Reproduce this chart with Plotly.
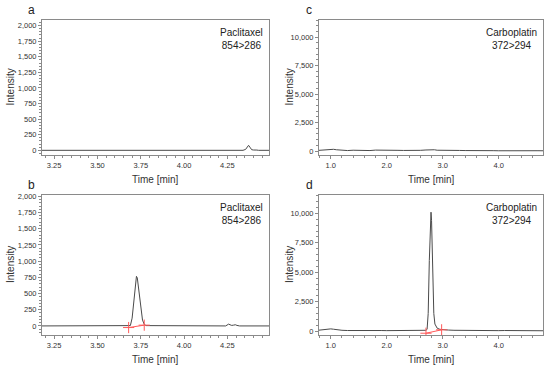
import plotly.graph_objects as go

# ---------------- data ----------------
# Panel a: Paclitaxel 854>286 (blank)
a_time = [3.18, 4.34, 4.355, 4.365, 4.372, 4.38, 4.39, 4.40, 4.41, 4.42, 4.43, 4.49]
a_int = [0, 0, 15, 60, 80, 50, 10, 5, 10, 4, 0, 0]

# Panel b: Paclitaxel 854>286 (sample)
b_time = [3.18, 3.68, 3.69, 3.70, 3.71, 3.715, 3.72, 3.725, 3.73, 3.74, 3.75, 3.76, 3.77, 3.78,
          4.24, 4.25, 4.257, 4.265, 4.275, 4.285, 4.296, 4.305, 4.32, 4.49]
b_int = [0, 0, 5, 120, 430, 560, 690, 765, 740, 520, 260, 90, 25, 5,
         0, 15, 28, 18, 8, 12, 18, 8, 0, 0]
b_base_t = [3.68, 3.77]
b_base_i = [-25, 12]

# Panel c: Carboplatin 372>294 (blank)
c_time = [0.79, 0.85, 0.9, 0.95, 1.0, 1.05, 1.1, 1.2, 1.3, 1.4, 1.5, 1.6, 1.7, 1.8, 1.9, 2.0,
          2.1, 2.2, 2.3, 2.4, 2.5, 2.6, 2.7, 2.8, 2.85, 2.9, 3.0, 3.1, 3.2, 3.3, 3.4, 3.5,
          3.6, 3.7, 3.8, 3.9, 4.0, 4.1, 4.2, 4.3, 4.4, 4.5, 4.6, 4.7, 4.79]
c_int = [60, 80, 110, 170, 180, 150, 110, 60, 40, 70, 50, 60, 40, 80, 60, 50,
         40, 60, 50, 40, 70, 60, 90, 140, 110, 70, 50, 40, 60, 50, 40, 50,
         30, 40, 50, 30, 20, 30, 20, 30, 20, 30, 20, 25, 20]

# Panel d: Carboplatin 372>294 (sample)
d_time = [0.79, 0.85, 0.9, 0.95, 1.0, 1.05, 1.1, 1.2, 1.3, 1.4, 1.5, 1.6, 1.7, 1.8, 1.9, 2.0,
          2.1, 2.2, 2.3, 2.4, 2.5, 2.6, 2.7, 2.72, 2.74, 2.76, 2.78, 2.79, 2.80, 2.82, 2.84,
          2.86, 2.88, 2.9, 2.95, 3.0, 3.1, 3.2, 3.3, 3.4, 3.5, 3.6, 3.7, 3.8, 3.9, 4.0,
          4.1, 4.2, 4.3, 4.4, 4.5, 4.6, 4.7, 4.79]
d_int = [80, 120, 150, 200, 190, 160, 110, 70, 50, 60, 40, 50, 40, 60, 50, 40,
         50, 40, 30, 40, 50, 40, 70, 150, 1500, 6000, 9800, 10100, 9400, 5000, 1500,
         600, 350, 250, 150, 120, 90, 70, 60, 80, 60, 50, 40, 60, 50, 40,
         50, 40, 30, 40, 30, 40, 30, 30]
d_base_t = [2.70, 2.98]
d_base_i = [-180, 110]

panel_labels = ["a", "b", "c", "d"]
compound_labels = ["Paclitaxel<br>854>286", "Paclitaxel<br>854>286",
                   "Carboplatin<br>372>294", "Carboplatin<br>372>294"]
x_title = "Time [min]"
y_title = "Intensity"

# ---------------- figure ----------------
FONT = "Liberation Sans, Arial, sans-serif"
LINE = "#4a4a4a"
AXC = "#8a8a8a"

fig = go.Figure()

def trace(x, y, xa, ya):
    fig.add_trace(go.Scatter(x=x, y=y, mode="lines", xaxis=xa, yaxis=ya,
                             line=dict(color=LINE, width=1), showlegend=False,
                             hoverinfo="skip"))

def base(x, y, xa, ya):
    fig.add_trace(go.Scatter(x=x, y=y, mode="lines+markers", xaxis=xa, yaxis=ya,
                             line=dict(color="#ff5a5a", width=1),
                             marker=dict(symbol="cross-thin-open", size=8,
                                         line=dict(color="#ff5a5a", width=1)),
                             showlegend=False, hoverinfo="skip"))

trace(a_time, a_int, "x", "y")
trace(b_time, b_int, "x2", "y2")
base(b_base_t, b_base_i, "x2", "y2")
trace(c_time, c_int, "x3", "y3")
trace(d_time, d_int, "x4", "y4")
base(d_base_t, d_base_i, "x4", "y4")

W, H = 550, 367
ML, MR, MT, MB = 42, 7, 20, 32
pw, ph = W - ML - MR, H - MT - MB
colL = [0, (269 - ML) / pw]
colR = [(319 - ML) / pw, 1]
rowT = [(H - MB - 155) / ph, 1]
rowB = [0, (H - MB - 195) / ph]

tickfont = dict(family=FONT, size=7.5, color="#333")

def xax(dom, anchor, rng, dtick, mdtick, fmt):
    return dict(domain=dom, anchor=anchor, range=rng, dtick=dtick, tick0=0,
                tickformat=fmt, ticks="outside", ticklen=3, tickwidth=1,
                tickcolor=AXC, showline=True, linecolor=AXC, linewidth=1,
                mirror=True, showgrid=False, zeroline=False, tickfont=tickfont,
                minor=dict(dtick=mdtick, tick0=0, ticks="outside", ticklen=2,
                           tickcolor=AXC, showgrid=False))

def yax(dom, anchor, rng, dtick, mdtick):
    return dict(domain=dom, anchor=anchor, range=rng, dtick=dtick, tick0=0,
                tickformat=",d", ticks="outside", ticklen=3, tickwidth=1,
                tickcolor=AXC, showline=True, linecolor=AXC, linewidth=1,
                mirror=True, showgrid=False, zeroline=False, tickfont=tickfont,
                minor=dict(dtick=mdtick, tick0=0, ticks="outside", ticklen=2,
                           tickcolor=AXC, showgrid=False))

fig.update_layout(
    width=W, height=H, margin=dict(l=ML, r=MR, t=MT, b=MB),
    paper_bgcolor="white", plot_bgcolor="white",
    font=dict(family=FONT, color="#333"),
    xaxis=xax(colL, "y", [3.18, 4.49], 0.25, 0.05, ".2f"),
    yaxis=yax(rowT, "x", [-75, 2090], 250, 50),
    xaxis2=xax(colL, "y2", [3.18, 4.49], 0.25, 0.05, ".2f"),
    yaxis2=yax(rowB, "x2", [-140, 2020], 250, 50),
    xaxis3=xax(colR, "y3", [0.79, 4.79], 1.0, 0.2, ".1f"),
    yaxis3=yax(rowT, "x3", [-350, 11500], 2500, 500),
    xaxis4=xax(colR, "y4", [0.79, 4.79], 1.0, 0.2, ".1f"),
    yaxis4=yax(rowB, "x4", [-330, 11560], 2500, 500),
)

anns = []
axes = [("x", "y"), ("x2", "y2"), ("x3", "y3"), ("x4", "y4")]
ylab_shift = [-32, -32, -30, -30]
for i, (xa, ya) in enumerate(axes):
    # compound label
    anns.append(dict(xref=f"{xa} domain", yref=f"{ya} domain", x=1, y=1,
                     xanchor="right", yanchor="top", xshift=-4, yshift=-5,
                     text=compound_labels[i], showarrow=False, align="center",
                     font=dict(family=FONT, size=10, color="#222")))
    # panel letter
    anns.append(dict(xref=f"{xa} domain", yref=f"{ya} domain", x=0, y=1,
                     xanchor="center", yanchor="bottom", xshift=-11 if i < 2 else -10,
                     yshift=1, text=panel_labels[i], showarrow=False,
                     font=dict(family=FONT, size=12, color="#222")))
    # x title
    anns.append(dict(xref=f"{xa} domain", yref=f"{ya} domain", x=0.5, y=0,
                     xanchor="center", yanchor="middle", yshift=-24,
                     text=x_title, showarrow=False,
                     font=dict(family=FONT, size=10, color="#333")))
    # y title
    anns.append(dict(xref=f"{xa} domain", yref=f"{ya} domain", x=0, y=0.5,
                     xanchor="center", yanchor="middle", xshift=ylab_shift[i],
                     text=y_title, showarrow=False, textangle=-90,
                     font=dict(family=FONT, size=10, color="#333")))
fig.update_layout(annotations=anns)

fig.write_html("out.html", config={"displayModeBar": False},
               post_script="document.body.style.margin='0';document.body.style.overflow='hidden';")
